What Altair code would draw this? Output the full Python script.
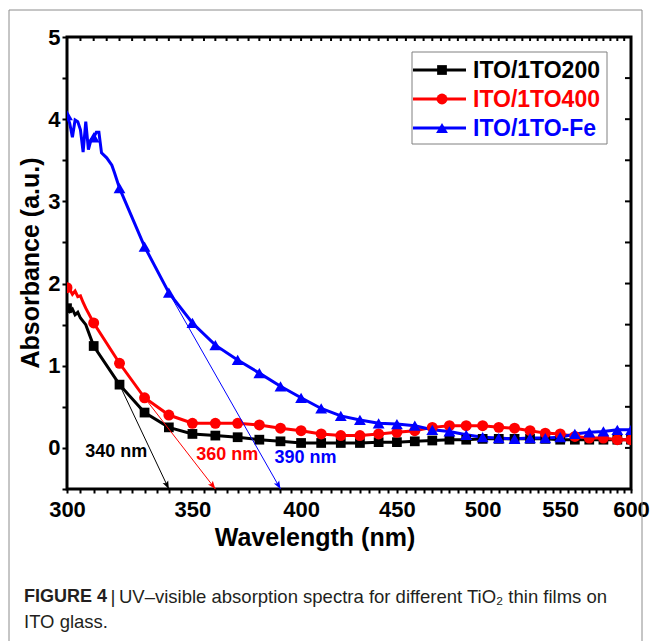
import altair as alt
import pandas as pd

# ---------------- data ----------------
series_names = ["ITO/1TO200", "ITO/1TO400", "ITO/1TO-Fe"]
series_colors = ["#000000", "#ff0000", "#0000ff"]
series_shapes = ["square", "circle", "triangle-up"]
series_sizes = [95, 120, 140]

black_wl = [300, 301, 302, 303, 304, 305, 307,
            310, 320, 330, 340, 350, 360, 370, 380, 390, 400,
            410, 420, 430, 440, 450, 460, 470, 480, 490, 500,
            510, 520, 530, 540, 550, 560, 570, 580, 590, 600]
black_abs = [1.70, 1.66, 1.69, 1.62, 1.65, 1.58, 1.50,
             1.24, 0.77, 0.43, 0.25, 0.17, 0.15, 0.13, 0.10, 0.08, 0.06,
             0.06, 0.06, 0.06, 0.07, 0.07, 0.08, 0.09, 0.10, 0.10, 0.11,
             0.11, 0.11, 0.11, 0.11, 0.10, 0.10, 0.10, 0.10, 0.10, 0.10]

red_wl = [300, 301, 302, 303, 304, 305, 306, 307,
          310, 320, 330, 340, 350, 360, 370, 380, 390, 400,
          410, 420, 430, 440, 450, 460, 470, 480, 490, 500,
          510, 520, 530, 540, 550, 560, 570, 580, 590, 600]
red_abs = [1.95, 1.93, 1.87, 1.91, 1.84, 1.85, 1.77, 1.70,
           1.52, 1.03, 0.61, 0.40, 0.30, 0.30, 0.30, 0.28, 0.24, 0.21,
           0.17, 0.15, 0.15, 0.17, 0.19, 0.21, 0.25, 0.27, 0.27, 0.27,
           0.25, 0.24, 0.21, 0.18, 0.17, 0.14, 0.12, 0.12, 0.10, 0.10]

blue_wl = [300, 301, 302, 303, 304, 305, 306, 307, 308, 309,
           310, 311, 312, 313, 315, 317, 318,
           320, 330, 340, 350, 360, 370, 380, 390, 400,
           410, 420, 430, 440, 450, 460, 470, 480, 490, 500,
           510, 520, 530, 540, 550, 560, 570, 580, 590, 600]
blue_abs = [4.05, 3.95, 3.78, 3.99, 3.97, 3.87, 3.60, 3.97, 3.63, 3.75,
            3.78, 3.84, 3.84, 3.59, 3.53, 3.44, 3.35,
            3.16, 2.45, 1.89, 1.52, 1.25, 1.07, 0.91, 0.75, 0.61,
            0.48, 0.39, 0.34, 0.30, 0.29, 0.27, 0.22, 0.20, 0.16, 0.13,
            0.12, 0.11, 0.12, 0.12, 0.13, 0.17, 0.19, 0.20, 0.22, 0.22]

# band-gap extrapolation arrows
arrow_colors = ["#000000", "#ff0000", "#0000ff"]
arrow_from_wl = [320, 330, 340]
arrow_from_abs = [0.77, 0.61, 1.89]
arrow_to_wl = [340, 360, 390]
arrow_to_abs = [-0.5, -0.5, -0.5]
arrow_angles = [334.7, 322.2, 330.4]
arrow_texts = ["340 nm", "360 nm", "390 nm"]
arrow_text_wl = [318.7, 365.3, 402.2]
arrow_text_abs = [-0.05, -0.085, -0.12]

x_label_values = [300, 350, 400, 450, 500, 550, 600]
x_tick_values = list(range(300, 601, 5))
y_label_values = [0, 1, 2, 3, 4, 5]
y_tick_values = [-0.5, 0, 0.5, 1, 1.5, 2, 2.5, 3, 3.5, 4, 4.5, 5]

x_title = "Wavelength (nm)"
y_title = "Absorbance (a.u.)"
caption_bold = "FIGURE 4"
caption_bar = "|"
caption_line1 = "UV\u2013visible absorption spectra for different TiO\u2082 thin films on"
caption_line2 = "ITO glass."

# ---------------- layout ----------------
W, H = 564, 452
FONT = "Liberation Sans"

frames = []
for name, wl, ab in zip(series_names, [black_wl, red_wl, blue_wl],
                        [black_abs, red_abs, blue_abs]):
    frames.append(pd.DataFrame({"series": name, "wl": wl, "abs": ab}))
df = pd.concat(frames, ignore_index=True)

xscale = alt.Scale(type="log", domain=[300, 600], nice=False)
yscale = alt.Scale(domain=[-0.5, 5], nice=False, zero=False)

x_expr = "indexof([" + ",".join(str(v) for v in x_label_values) + \
    "], datum.value) >= 0 ? format(datum.value, 'd') : ''"
y_expr = "indexof([" + ",".join(str(v) for v in y_label_values) + \
    "], datum.value) >= 0 ? format(datum.value, 'd') : ''"

xaxis = alt.Axis(values=x_tick_values, labelExpr=x_expr, title=None,
                 domain=False, grid=False, tickSize=4, tickWidth=2,
                 tickColor="black", labelFont=FONT, labelFontSize=22,
                 labelFontWeight="bold", labelColor="black", labelPadding=6,
                 labelFlush=False, labelOverlap=False, labelBound=False)
yaxis = alt.Axis(values=y_tick_values, labelExpr=y_expr, title=None,
                 domain=False, grid=False, tickSize=5, tickWidth=2,
                 tickColor="black", labelFont=FONT, labelFontSize=22,
                 labelFontWeight="bold", labelColor="black", labelPadding=2,
                 labelFlush=False, labelOverlap=False)


def X(field):
    return alt.X(field, scale=xscale, axis=xaxis)


def Y(field):
    return alt.Y(field, scale=yscale, axis=yaxis)


layers = []

# data lines and markers
for i, name in enumerate(series_names):
    sub = df[df["series"] == name]
    layers.append(alt.Chart(sub).mark_line(
        color=series_colors[i], strokeWidth=3, clip=True
    ).encode(x=X("wl:Q"), y=Y("abs:Q"), order="wl:Q"))

for i, name in enumerate(series_names):
    sub = df[(df["series"] == name) & (df["wl"] % 10 == 0)]
    layers.append(alt.Chart(sub).mark_point(
        shape=series_shapes[i], filled=True, opacity=1, size=series_sizes[i],
        color=series_colors[i], clip=True
    ).encode(x=X("wl:Q"), y=Y("abs:Q")))

# arrows
adf = pd.DataFrame({"c": arrow_colors, "x1": arrow_from_wl, "y1": arrow_from_abs,
                    "x2": arrow_to_wl, "y2": arrow_to_abs, "ang": arrow_angles,
                    "t": arrow_texts, "tx": arrow_text_wl, "ty": arrow_text_abs})
layers.append(alt.Chart(adf).mark_rule(strokeWidth=1).encode(
    x=X("x1:Q"), y=Y("y1:Q"), x2="x2:Q", y2="y2:Q",
    color=alt.Color("c:N", scale=None),
))
layers.append(alt.Chart(adf).mark_point(
    shape="M0,0 L-0.38,-1 L0,-0.8 L0.38,-1 Z", filled=True, opacity=1, size=260
).encode(
    x=X("x2:Q"), y=Y("y2:Q"),
    color=alt.Color("c:N", scale=None),
    angle=alt.Angle("ang:Q", scale=None),
))
layers.append(alt.Chart(adf).mark_text(
    font=FONT, fontSize=18, fontWeight="bold"
).encode(
    x=X("tx:Q"), y=Y("ty:Q"),
    text="t:N", color=alt.Color("c:N", scale=None),
))

# inward ticks on top and right
layers.append(alt.Chart(pd.DataFrame({"wl": x_tick_values})).mark_rule(
    color="black", strokeWidth=2
).encode(x=X("wl:Q"), y=alt.value(0), y2=alt.value(4)))
layers.append(alt.Chart(pd.DataFrame({"abs": y_tick_values})).mark_rule(
    color="black", strokeWidth=2
).encode(y=Y("abs:Q"), x=alt.value(W - 6), x2=alt.value(W)))

# legend (manual)
one = pd.DataFrame({"k": [0]})
leg_y = [33, 62, 91]
layers.append(alt.Chart(one).mark_rect(
    fillOpacity=0, stroke="#808080", strokeWidth=1
).encode(x=alt.value(345), x2=alt.value(540), y=alt.value(15), y2=alt.value(107)))
for i, name in enumerate(series_names):
    layers.append(alt.Chart(one).mark_rule(
        color=series_colors[i], strokeWidth=3
    ).encode(x=alt.value(346), x2=alt.value(399), y=alt.value(leg_y[i])))
    layers.append(alt.Chart(one).mark_point(
        shape=series_shapes[i], filled=True, opacity=1,
        size=series_sizes[i], color=series_colors[i]
    ).encode(x=alt.value(375), y=alt.value(leg_y[i])))
    layers.append(alt.Chart(pd.DataFrame({"t": [name]})).mark_text(
        font=FONT, fontSize=23, fontWeight="bold", align="left",
        baseline="middle", color=series_colors[i]
    ).encode(x=alt.value(406), y=alt.value(leg_y[i] + 1), text="t:N"))

# axis titles
layers.append(alt.Chart(pd.DataFrame({"t": [x_title]})).mark_text(
    font=FONT, fontSize=25, fontWeight="bold", color="black", baseline="middle"
).encode(x=alt.value(315 - 67), y=alt.value(501), text="t:N"))
layers.append(alt.Chart(pd.DataFrame({"t": [y_title]})).mark_text(
    font=FONT, fontSize=25, fontWeight="bold", color="black",
    baseline="middle", angle=270
).encode(x=alt.value(-36), y=alt.value(H / 2), text="t:N"))

# figure frame and caption
layers.append(alt.Chart(one).mark_rect(
    fillOpacity=0, stroke="#8c8c8c", strokeWidth=1
).encode(x=alt.value(-58), x2=alt.value(575), y=alt.value(-27), y2=alt.value(640)))
layers.append(alt.Chart(pd.DataFrame({"t": [caption_bold]})).mark_text(
    font=FONT, fontSize=18, fontWeight="bold",
    align="left", baseline="middle", color="#231f20"
).encode(x=alt.value(24 - 67), y=alt.value(597 - 37), text="t:N"))
layers.append(alt.Chart(pd.DataFrame({"t": [caption_bar]})).mark_text(
    font=FONT, fontSize=19, align="center", baseline="middle", color="#231f20"
).encode(x=alt.value(113 - 67), y=alt.value(597 - 37), text="t:N"))
layers.append(alt.Chart(pd.DataFrame({"t": [caption_line1]})).mark_text(
    font=FONT, fontSize=18.5, align="left", baseline="middle", color="#231f20"
).encode(x=alt.value(119 - 67), y=alt.value(597 - 37), text="t:N"))
layers.append(alt.Chart(pd.DataFrame({"t": [caption_line2]})).mark_text(
    font=FONT, fontSize=18.5, align="left", baseline="middle", color="#231f20"
).encode(x=alt.value(24 - 67), y=alt.value(622 - 37), text="t:N"))

chart = alt.layer(*layers).properties(
    width=W, height=H,
    autosize=alt.AutoSizeParams(type="none"),
    padding={"left": 67, "top": 37, "right": 20, "bottom": 152},
    background="white",
).configure_view(stroke="black", strokeWidth=3)

chart.save("out.html", embed_options={"renderer": "svg", "actions": False})
